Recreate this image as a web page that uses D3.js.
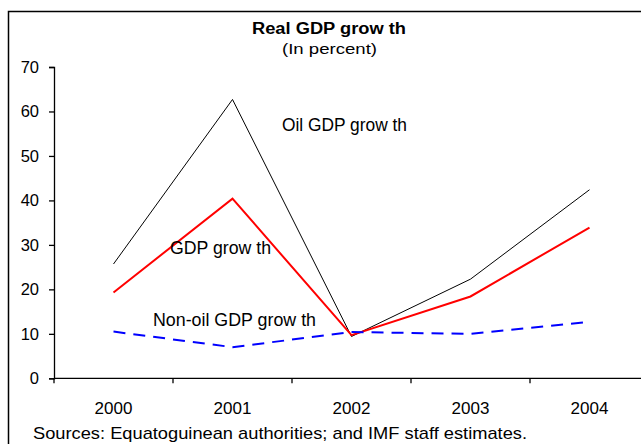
<!DOCTYPE html>
<html>
<head>
<meta charset="utf-8">
<script src="https://cdn.jsdelivr.net/npm/d3@7"></script>
<style>
  html, body { margin: 0; padding: 0; background: #fff; overflow: hidden; }
  svg { display: block; font-family: "Liberation Sans", Arial, sans-serif; }
</style>
</head>
<body>
<svg id="chart" width="641" height="444"></svg>
<script>
// Real GDP growth, in percent
const years = ["2000", "2001", "2002", "2003", "2004"];
const oilGdp = [25.7, 62.7, 9.4, 22.3, 42.4];
const gdp = [19.3, 40.4, 9.7, 18.4, 33.9];
const nonOilGdp = [10.5, 7.0, 10.4, 10.0, 12.7];
const yTicks = [0, 10, 20, 30, 40, 50, 60, 70];

const svg = d3.select("#chart");

// outer frame
svg.append("rect")
  .attr("x", 8.5).attr("y", 11.5)
  .attr("width", 700).attr("height", 500)
  .attr("fill", "none").attr("stroke", "#000").attr("stroke-width", 1.5);

const x = d3.scaleBand().domain(years).range([54, 649]);
const y = d3.scaleLinear().domain([0, 70]).range([378.3, 67]);

// y axis
const yAxis = svg.append("g")
  .attr("transform", "translate(54,0)")
  .call(d3.axisLeft(y).tickValues(yTicks).tickSize(5).tickPadding(10));
yAxis.selectAll("text").attr("font-size", 16.5).attr("fill", "#000")
  .attr("font-family", "Liberation Sans, Arial, sans-serif");
yAxis.selectAll("line, path").attr("stroke", "#000").attr("stroke-width", 1.3);

// x axis with ticks on category boundaries
const xAxisG = svg.append("g").attr("transform", `translate(0,${y(0)})`);
xAxisG.append("line")
  .attr("x1", 54).attr("x2", 649)
  .attr("stroke", "#000").attr("stroke-width", 1.3);
xAxisG.selectAll("line.tick")
  .data(years.concat(["end"]))
  .join("line")
  .attr("class", "tick")
  .attr("x1", (d, i) => 54 + i * x.step())
  .attr("x2", (d, i) => 54 + i * x.step())
  .attr("y1", 0).attr("y2", 5)
  .attr("stroke", "#000").attr("stroke-width", 1.3);
xAxisG.selectAll("text")
  .data(years)
  .join("text")
  .attr("x", d => x(d) + x.bandwidth() / 2)
  .attr("y", 36)
  .attr("text-anchor", "middle")
  .attr("font-size", 17)
  .text(d => d);

const line = d3.line()
  .x((d, i) => x(years[i]) + x.bandwidth() / 2)
  .y(d => y(d));

svg.append("path").datum(oilGdp)
  .attr("d", line).attr("fill", "none")
  .attr("stroke", "#000").attr("stroke-width", 1);

svg.append("path").datum(gdp)
  .attr("d", line).attr("fill", "none")
  .attr("stroke", "#ff0000").attr("stroke-width", 2);

svg.append("path").datum(nonOilGdp)
  .attr("d", line).attr("fill", "none")
  .attr("stroke", "#0000ff").attr("stroke-width", 2)
  .attr("stroke-dasharray", "12,8");

// series labels
const labels = [
  { text: "Oil GDP grow th", x: 282, y: 131, w: 125 },
  { text: "GDP grow th", x: 170, y: 254, w: 101 },
  { text: "Non-oil GDP grow th", x: 153, y: 326, w: 163 }
];
svg.selectAll("text.series")
  .data(labels)
  .join("text")
  .attr("class", "series")
  .attr("x", d => d.x).attr("y", d => d.y)
  .attr("font-size", 17.5)
  .attr("textLength", d => d.w)
  .attr("lengthAdjust", "spacingAndGlyphs")
  .text(d => d.text);

// title
svg.append("text")
  .attr("x", 252).attr("y", 34)
  .attr("font-size", 16).attr("font-weight", "bold")
  .attr("textLength", 154).attr("lengthAdjust", "spacingAndGlyphs")
  .text("Real GDP grow th");
svg.append("text")
  .attr("x", 282).attr("y", 54)
  .attr("font-size", 15.5)
  .attr("textLength", 95).attr("lengthAdjust", "spacingAndGlyphs")
  .text("(In percent)");

// source note
svg.append("text")
  .attr("x", 33).attr("y", 439)
  .attr("font-size", 17)
  .attr("textLength", 494).attr("lengthAdjust", "spacingAndGlyphs")
  .text("Sources: Equatoguinean authorities; and IMF staff estimates.");
</script>
</body>
</html>
